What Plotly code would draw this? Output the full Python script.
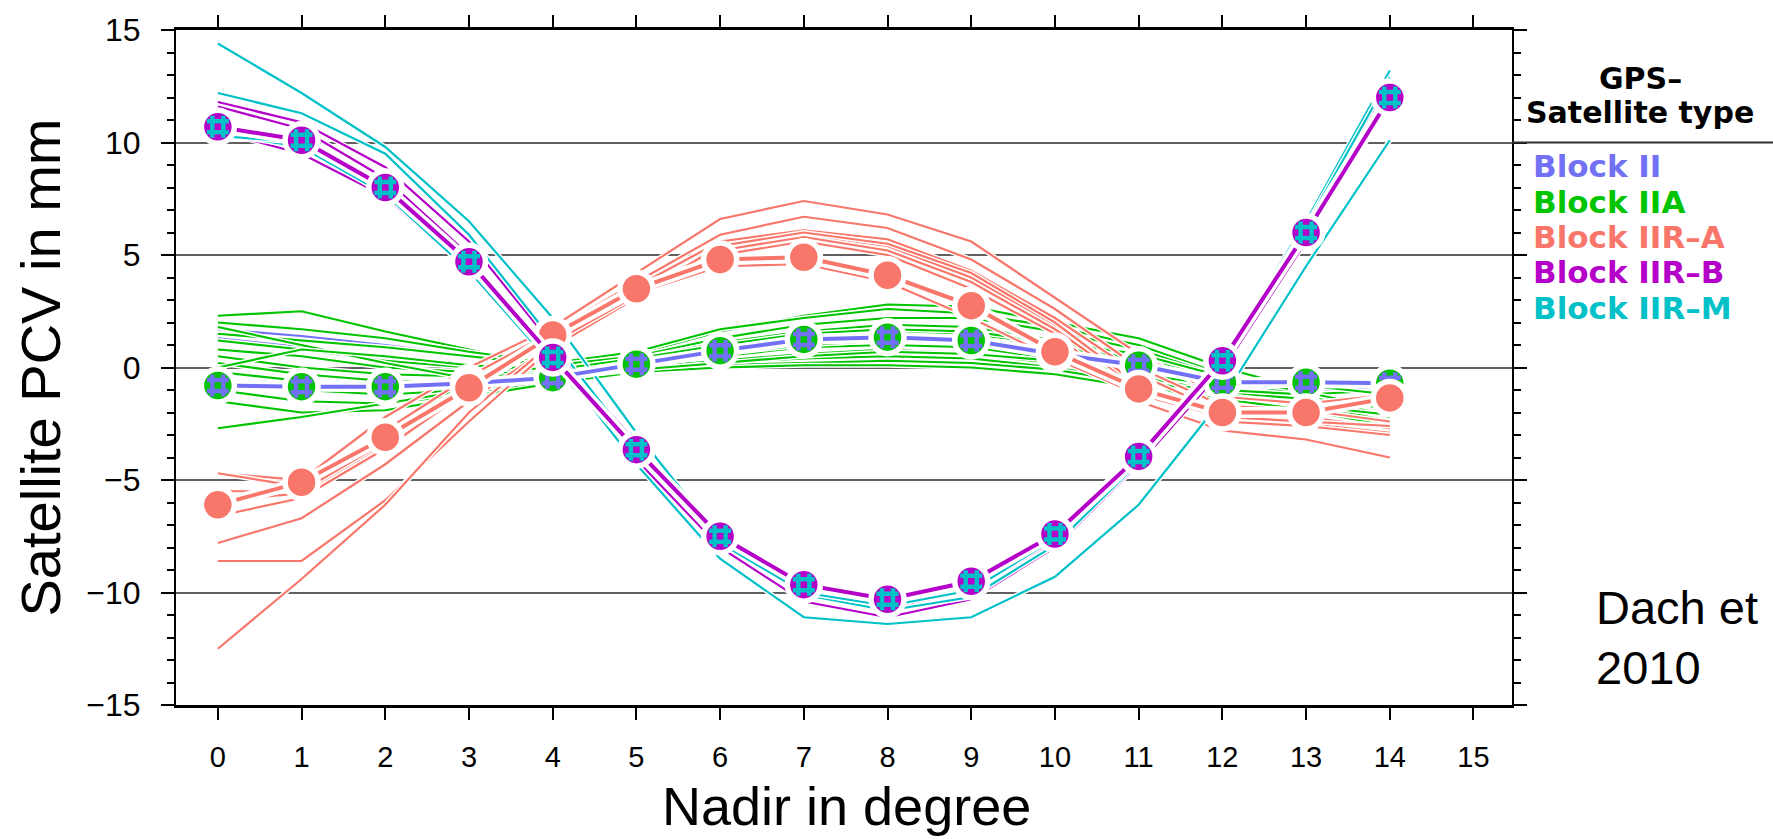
import plotly.graph_objects as go

# ---------------- data ----------------
nadir = list(range(15))

block_ii = [
    [1.7, 1.4, 1.0, 0.5, 0.0, 0.2, 0.4, 0.4, 0.3, 0.1, -0.3, -0.6, -0.8, -0.9, -0.9],
    [1.3, 0.9, 0.4, 0.0, -0.3, 0.1, 0.6, 1.0, 1.2, 1.1, 0.7, 0.2, -0.5, -0.9, -1.2],
]
block_iia = [
    [2.3, 2.5, 1.6, 0.8, 0.0, 0.6, 1.6, 2.3, 2.8, 2.7, 2.0, 1.3, 0.0, -1.0, -2.0],
    [2.0, 1.7, 1.3, 0.7, 0.2, 0.7, 1.7, 2.2, 2.6, 2.4, 1.8, 1.0, -0.3, -1.2, -1.6],
    [1.5, 1.2, 0.9, 0.5, 0.1, 0.5, 1.3, 1.9, 2.2, 2.2, 1.6, 0.8, -0.4, -1.0, -2.5],
    [1.2, 0.8, 0.3, 0.0, -0.2, 0.4, 1.1, 1.6, 1.9, 1.8, 1.2, 0.5, -0.6, -1.2, -2.2],
    [0.8, 0.5, 0.0, -0.2, -0.3, 0.3, 0.9, 1.4, 1.6, 1.5, 1.0, 0.3, -0.8, -1.5, -2.8],
    [0.5, 0.0, -0.3, -0.4, -0.3, 0.2, 0.7, 1.1, 1.3, 1.2, 0.7, 0.0, -0.9, -1.3, -1.8],
    [0.2, -0.3, -0.6, -0.6, -0.4, 0.1, 0.5, 0.9, 1.0, 0.9, 0.4, -0.2, -1.0, -1.6, -2.4],
    [-0.2, -0.6, -0.9, -0.8, -0.5, 0.0, 0.3, 0.6, 0.8, 0.6, 0.2, -0.4, -1.1, -1.4, -1.5],
    [-0.5, -1.0, -1.2, -1.0, -0.6, -0.1, 0.2, 0.4, 0.5, 0.4, 0.0, -0.6, -1.2, -1.7, -2.1],
    [-1.0, -1.5, -1.6, -1.2, -0.6, -0.1, 0.1, 0.2, 0.3, 0.2, -0.1, -0.7, -1.0, -1.2, -1.0],
    [-1.5, -2.0, -1.9, -1.3, -0.7, -0.2, 0.0, 0.1, 0.1, 0.0, -0.3, -0.9, -1.4, -1.9, -2.6],
    [-2.7, -2.2, -1.6, -1.0, -0.5, -0.1, 0.2, 0.5, 0.7, 0.6, 0.3, -0.3, -0.8, -0.9, -0.6],
    [1.8, 1.0, 0.2, -0.5, -0.6, 0.0, 0.6, 1.0, 1.2, 1.3, 0.9, 0.4, -0.5, -0.8, -1.2],
    [0.0, 0.8, 0.5, 0.1, -0.1, 0.4, 1.0, 1.5, 1.7, 1.6, 1.1, 0.6, -0.4, -1.1, -1.9],
]
block_iir_a = [
    [-4.7, -5.0, -2.2, 0.0, 1.8, 4.2, 6.6, 7.4, 6.8, 5.6, 3.1, 0.6, -1.3, -1.6, -1.2],
    [-4.7, -5.3, -2.8, -0.4, 1.6, 3.8, 5.9, 6.7, 6.2, 4.8, 2.6, 0.0, -1.7, -1.9, -2.4],
    [-5.9, -5.6, -3.4, -0.8, 1.4, 3.6, 5.6, 6.1, 5.7, 4.3, 2.2, -0.3, -2.0, -2.3, -2.6],
    [-6.6, -5.8, -3.6, -1.0, 1.2, 3.4, 5.3, 5.9, 5.4, 4.0, 1.9, -0.6, -2.3, -2.5, -2.9],
    [-7.8, -6.7, -4.3, -1.5, 1.0, 3.3, 5.2, 5.8, 5.2, 3.8, 1.7, -0.9, -2.1, -2.2, -2.7],
    [-8.6, -8.6, -5.9, -2.4, 0.9, 3.1, 5.0, 5.6, 5.0, 3.5, 1.5, -1.5, -2.8, -3.2, -4.0],
    [-12.5, -9.4, -6.1, -2.0, 1.1, 3.2, 5.4, 6.0, 5.5, 4.2, 2.0, -0.8, -2.4, -2.6, -3.0],
    [-5.5, -5.5, -3.3, -0.9, 1.3, 3.3, 4.5, 4.6, 3.8, 2.2, 0.4, -1.2, -2.2, -2.4, -2.6],
]
block_iir_b = [
    [11.8, 10.9, 8.9, 5.6, 1.0, -3.4, -7.3, -9.6, -10.3, -9.5, -7.3, -3.7, 0.6, 6.4, 12.7],
    [11.6, 10.6, 8.4, 5.0, 0.6, -3.8, -7.7, -10.0, -10.7, -9.9, -7.7, -4.0, 0.2, 6.0, 12.3],
    [10.9, 10.2, 8.0, 4.6, 0.2, -4.1, -8.0, -10.4, -11.1, -10.3, -8.0, -4.3, -0.1, 5.6, 11.9],
    [10.5, 9.5, 7.6, 4.3, 0.3, -3.7, -7.6, -9.9, -10.6, -9.8, -7.6, -3.9, 0.3, 6.1, 12.1],
]
block_iir_m = [
    [14.4, 12.2, 9.8, 6.5, 2.2, -2.9, -7.6, -10.1, -10.8, -10.2, -7.9, -4.2, 0.4, 6.5, 13.2],
    [12.2, 11.3, 9.5, 5.9, 1.2, -3.6, -7.6, -9.8, -10.5, -9.7, -7.5, -4.0, 0.4, 6.3, 12.9],
    [10.4, 9.8, 7.7, 4.3, 0.1, -3.8, -7.8, -10.0, -10.6, -9.9, -7.6, -4.1, 0.1, 5.8, 12.4],
    [10.3, 10.0, 8.0, 4.5, 0.5, -4.3, -8.5, -11.1, -11.4, -11.1, -9.3, -6.1, -1.4, 4.5, 10.1],
]

mean_ii_iia = [-0.8, -0.85, -0.85, -0.7, -0.45, 0.15, 0.75, 1.25, 1.35, 1.2, 0.6, 0.1, -0.65, -0.65, -0.7]
mean_iir_a = [-6.1, -5.1, -3.1, -0.9, 1.45, 3.5, 4.8, 4.9, 4.1, 2.75, 0.7, -0.95, -2.0, -2.0, -1.35]
mean_iir_bm = [10.7, 10.1, 8.0, 4.7, 0.45, -3.65, -7.5, -9.65, -10.3, -9.5, -7.4, -3.95, 0.3, 6.0, 12.0]

legend_labels = ["Block II", "Block IIA", "Block IIR\u2013A", "Block IIR\u2013B", "Block IIR\u2013M"]

# ---------------- style ----------------
C_II = "#7270f4"
C_IIA = "#00c400"
C_IIRA = "#f8766a"
C_IIRB = "#b400c8"
C_IIRM = "#00c0c8"
legend_colors = [C_II, C_IIA, C_IIRA, C_IIRB, C_IIRM]

W, H = 1773, 839
L, R, T, B = 176, 1512, 27, 705
FONT = "Liberation Sans, Arial, Helvetica, sans-serif"
BOLD = "DejaVu Sans, Liberation Sans, Arial, sans-serif"


def px(xp):
    return (xp - L) / (R - L)


def py(yp):
    return (B - yp) / (B - T)


fig = go.Figure()


def add_line(y, color, width=2.2, halo=5):
    fig.add_trace(go.Scatter(x=nadir, y=y, mode="lines", hoverinfo="skip",
                             line=dict(color="white", width=halo), showlegend=False))
    fig.add_trace(go.Scatter(x=nadir, y=y, mode="lines", hoverinfo="skip",
                             line=dict(color=color, width=width), showlegend=False))


for grp, col in [(block_ii, C_II), (block_iia, C_IIA), (block_iir_a, C_IIRA),
                 (block_iir_b, C_IIRB), (block_iir_m, C_IIRM)]:
    for s in grp:
        add_line(s, col)


def add_mean(y, line_col, base_col, check_col=None):
    fig.add_trace(go.Scatter(x=nadir, y=y, mode="lines", hoverinfo="skip",
                             line=dict(color="white", width=11), showlegend=False))
    fig.add_trace(go.Scatter(x=nadir, y=y, mode="lines", hoverinfo="skip",
                             line=dict(color=line_col, width=4), showlegend=False))
    fig.add_trace(go.Scatter(x=nadir, y=y, mode="markers", hoverinfo="skip",
                             marker=dict(symbol="circle", size=33, color=base_col,
                                         line=dict(color="white", width=5.5)),
                             showlegend=False))
    if check_col:
        fig.add_trace(go.Scatter(x=nadir, y=y, mode="markers", hoverinfo="skip",
                                 marker=dict(symbol="hash-open", size=22, color=check_col,
                                             line=dict(color=check_col, width=4.5)),
                                 showlegend=False))


add_mean(mean_ii_iia, C_II, C_IIA, C_II)
add_mean(mean_iir_a, C_IIRA, C_IIRA, None)
add_mean(mean_iir_bm, C_IIRB, C_IIRB, C_IIRM)

# ---------------- annotations ----------------
ann = []
ann.append(dict(text="Satellite PCV in mm", x=px(40), y=py(366), xref="paper", yref="paper",
                showarrow=False, textangle=-90, xanchor="center", yanchor="middle",
                font=dict(family=FONT, size=56, color="black")))
ann.append(dict(text="Nadir in degree", x=px(846), y=py(806), xref="paper", yref="paper",
                showarrow=False, xanchor="center", yanchor="middle",
                font=dict(family=FONT, size=54, color="black")))
ann.append(dict(text="<b>GPS\u2013</b>", x=px(1640), y=py(76), xref="paper", yref="paper",
                showarrow=False, xanchor="center", yanchor="middle",
                font=dict(family=BOLD, size=30, color="black")))
ann.append(dict(text="<b>Satellite type</b>", x=px(1640), y=py(110), xref="paper", yref="paper",
                showarrow=False, xanchor="center", yanchor="middle",
                font=dict(family=BOLD, size=30, color="black")))
for i, (lab, col) in enumerate(zip(legend_labels, legend_colors)):
    ann.append(dict(text="<b>%s</b>" % lab, x=px(1531), y=py(164 + 35.5 * i),
                    xref="paper", yref="paper", showarrow=False,
                    xanchor="left", yanchor="middle",
                    font=dict(family=BOLD, size=31, color=col)))
ann.append(dict(text="Dach et", x=px(1594), y=py(607), xref="paper", yref="paper",
                showarrow=False, xanchor="left", yanchor="middle",
                font=dict(family=FONT, size=47, color="black")))
ann.append(dict(text="2010", x=px(1594), y=py(667), xref="paper", yref="paper",
                showarrow=False, xanchor="left", yanchor="middle",
                font=dict(family=FONT, size=47, color="black")))

shapes = [dict(type="line", xref="paper", yref="y", x0=1.0, x1=px(W + 5), y0=10, y1=10,
               line=dict(color="#303030", width=2))]

fig.update_layout(
    width=W, height=H,
    margin=dict(l=L, r=W - R, t=T, b=H - B),
    paper_bgcolor="white", plot_bgcolor="white",
    font=dict(family=FONT, color="black"),
    annotations=ann, shapes=shapes,
    showlegend=False,
)
fig.update_xaxes(
    range=[-0.5, 15.46], tickmode="array", tickvals=list(range(16)),
    ticktext=[str(v) for v in range(16)],
    ticks="outside", ticklen=12, tickwidth=2, tickcolor="black",
    showline=True, linewidth=2.5, linecolor="black", mirror="ticks",
    showgrid=False, zeroline=False,
    tickfont=dict(family=FONT, size=29, color="black"), ticklabelstandoff=12,
)
fig.update_yaxes(
    range=[-15, 15], tickmode="linear", tick0=0, dtick=5,
    ticks="outside", ticklen=13, tickwidth=2, tickcolor="black",
    minor=dict(tickmode="linear", tick0=0, dtick=1, ticks="outside", ticklen=7,
               tickwidth=1.5, tickcolor="black", showgrid=False),
    showline=True, linewidth=2, linecolor="black", mirror="ticks",
    showgrid=True, gridcolor="#606060", gridwidth=1.5, zeroline=False,
    tickfont=dict(family=FONT, size=32, color="black"), ticklabelstandoff=14,
)

fig.write_html("out.html")
